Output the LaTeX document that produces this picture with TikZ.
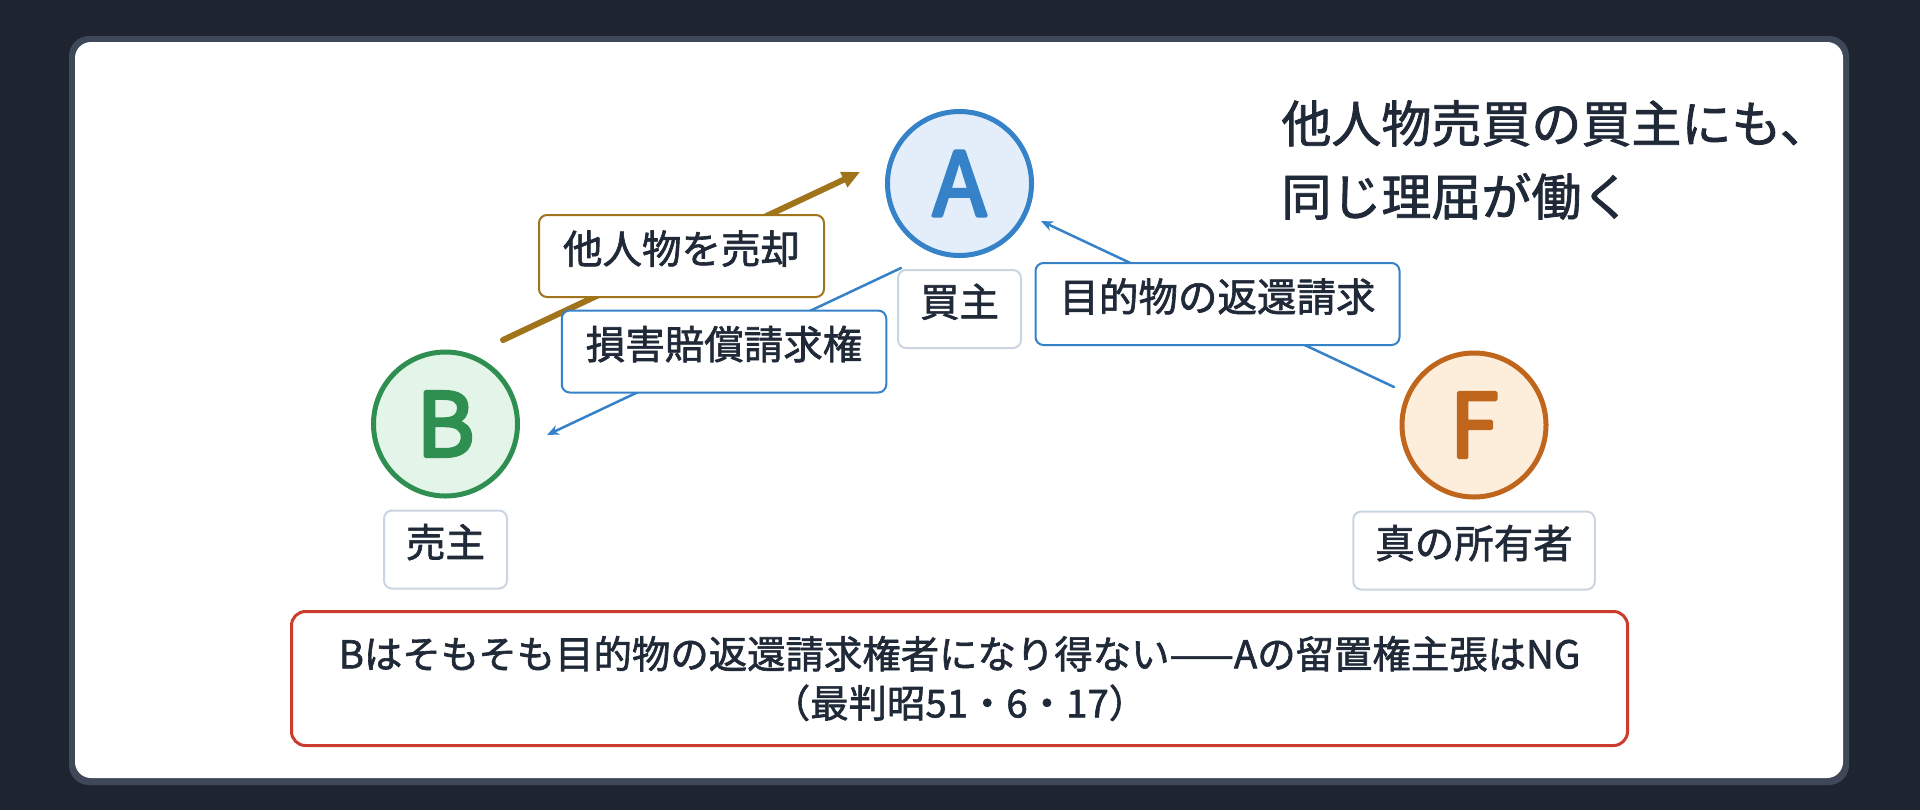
\documentclass[tikz,border=0pt]{standalone}
\usepackage{fontspec}
\setmainfont{Noto Sans CJK JP}[FakeBold=1.6]
\newfontfamily\partyfont{Noto Sans CJK JP}[FakeBold=4]
\usepackage{tikz}
\usetikzlibrary{positioning}
\usetikzlibrary{arrows.meta}
\definecolor{bg}{HTML}{1E2430}
\definecolor{frame}{HTML}{3E4858}
\definecolor{ink}{HTML}{1F2937}
\definecolor{ablue}{HTML}{3582C8}
\definecolor{afill}{HTML}{E3EEFA}
\definecolor{bgreen}{HTML}{2E8F50}
\definecolor{bfill}{HTML}{E3F5E8}
\definecolor{forange}{HTML}{C0651C}
\definecolor{ffill}{HTML}{FDEEDC}
\definecolor{saleb}{HTML}{A0741A}
\definecolor{ngred}{HTML}{CC3B2B}
\definecolor{tagline}{HTML}{CBD5E1}
\tikzstyle{every node}=[font=\fontsize{19.75}{24}\selectfont,text=ink]
\tikzstyle{every path}=[line cap=round,line join=round]
\tikzstyle{party}=[circle,minimum size=72pt,inner sep=0pt,line width=2.5pt,font=\fontsize{44}{44}\selectfont\partyfont]
\tikzstyle{role}=[draw=tagline,fill=white,line width=1pt,rounded corners=4pt,inner xsep=11pt,inner ysep=0pt,minimum height=39pt,text height=0.88em,text depth=0.12em]
\tikzstyle{tag}=[fill=white,line width=1pt,rounded corners=4pt,inner xsep=12pt,inner ysep=0pt,minimum height=41pt,text height=0.88em,text depth=0.12em]
\tikzstyle{sale}=[saleb,line width=3pt,-{Triangle[length=9pt,width=8pt]}]
\tikzstyle{claim}=[ablue,line width=1.25pt,-{Stealth[length=6pt,width=5pt]}]

\begin{document}
\begin{tikzpicture}[x=0.5pt,y=-0.5pt]
\fill[bg] (0,0) rectangle (1920,810);
\fill[frame,rounded corners=10pt] (69,36) rectangle (1849,785);
\fill[white,rounded corners=8pt] (75,42) rectangle (1843,778);

\node[party,draw=ablue,fill=afill,text=ablue] (A) at (959.5,183.5) {A};
\node[party,draw=bgreen,fill=bfill,text=bgreen] (B) at (445.5,424) {B};
\node[party,draw=forange,fill=ffill,text=forange] (F) at (1474,425) {F};
\node[role,below=5.5pt of A] (Arole) {買主};
\node[role,below=5.5pt of B] (Brole) {売主};
\node[role,below=5.5pt of F] (Frole) {真の所有者};

\draw[sale] ([shift={(57.5,-84)}]B.center) -- node[tag,draw=saleb,midway] (sell) {他人物を売却} ([shift={(-99.5,-11.5)}]A.center);
\draw[claim] ([shift={(-58.5,84.5)}]A.center) -- node[tag,draw=ablue,midway] (damages) {損害賠償請求権} ([shift={(101.5,11)}]B.center);
\draw[claim] ([shift={(-80,-38)}]F.center) -- node[tag,draw=ablue,midway] (return) {目的物の返還請求} ([shift={(81.5,37.5)}]A.center);

\node[anchor=west,align=left,inner sep=0pt,font=\fontsize{25}{36.5}\selectfont] (title) at (1281,160) {他人物売買の買主にも、\\同じ理屈が働く};
\node[draw=ngred,fill=white,line width=1.5pt,rounded corners=7pt,minimum width=668pt,minimum height=67pt,align=center,font=\fontsize{19.2}{24.5}\selectfont] (ng) at (959.5,678.5) {Bはそもそも目的物の返還請求権者になり得ない——Aの留置権主張はNG\\（最判昭51・6・17）};
\end{tikzpicture}
\end{document}
